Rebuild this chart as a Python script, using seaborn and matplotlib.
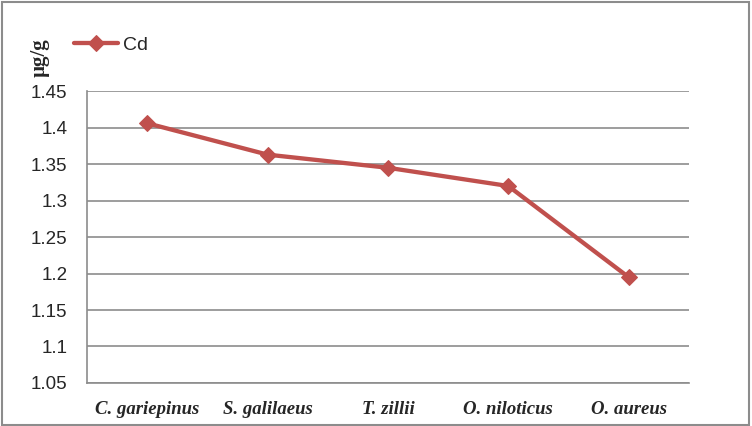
import pandas as pd
import matplotlib.pyplot as plt
import seaborn as sns
from matplotlib.patches import Rectangle

# Cd concentration per fish species
species = ["C. gariepinus", "S. galilaeus", "T. zillii", "O. niloticus", "O. aureus"]
cd_values = [1.406, 1.363, 1.345, 1.320, 1.195]
y_ticks = [1.05, 1.1, 1.15, 1.2, 1.25, 1.3, 1.35, 1.4, 1.45]

df = pd.DataFrame({"species": species, "Cd": cd_values})

sns.set_style("white")
plt.rcParams['font.family'] = ['Liberation Sans', 'DejaVu Sans']

fig = plt.figure(figsize=(7.52, 4.26), dpi=100)
ax = fig.add_axes([0.1157, 0.101, 0.8003, 0.685])

red = "#C0504D"
sns.lineplot(data=df, x="species", y="Cd", sort=False, ax=ax, color=red,
             linewidth=3.1, marker="D", markersize=8.5, markeredgecolor=red,
             label="Cd")

ax.set_ylim(1.05, 1.45)
ax.set_xlim(-0.5, len(species) - 0.5)
ax.set_yticks(y_ticks)
ax.set_yticklabels([f"{t:g}" for t in y_ticks], fontsize=13.5)
ax.set_xticks(range(len(species)))
ax.set_xticklabels(species, fontsize=13.5, fontweight="bold", fontstyle="italic",
                   family=["Liberation Serif", "DejaVu Serif"])
ax.tick_params(axis="y", length=0, pad=14)
ax.tick_params(axis="x", length=0, pad=13)
ax.yaxis.grid(True, color="#8c8c8c", linewidth=1.2)
ax.set_axisbelow(True)
for side in ["top", "right"]:
    ax.spines[side].set_visible(False)
for side in ["left", "bottom"]:
    ax.spines[side].set_color("#8c8c8c")
    ax.spines[side].set_linewidth(1.2)
ax.set_xlabel("")
ax.set_ylabel("")

# units label above the y axis
fig.text(0.053, 0.865, "\u00b5g/g", rotation=90, ha="center", va="center",
         fontsize=15, fontweight="bold", family=["Liberation Serif", "DejaVu Serif"])

ax.legend(loc="center left", bbox_to_anchor=(0.098, 0.894), bbox_transform=fig.transFigure,
          frameon=False, fontsize=14, handlelength=2.3, handletextpad=0.25,
          borderaxespad=0, borderpad=0)

# outer chart border
fig.patches.append(Rectangle((0.002, 0.003), 0.994, 0.993, transform=fig.transFigure,
                             fill=False, edgecolor="#8c8c8c", linewidth=1.5))

fig.savefig("out.png", dpi=100)
